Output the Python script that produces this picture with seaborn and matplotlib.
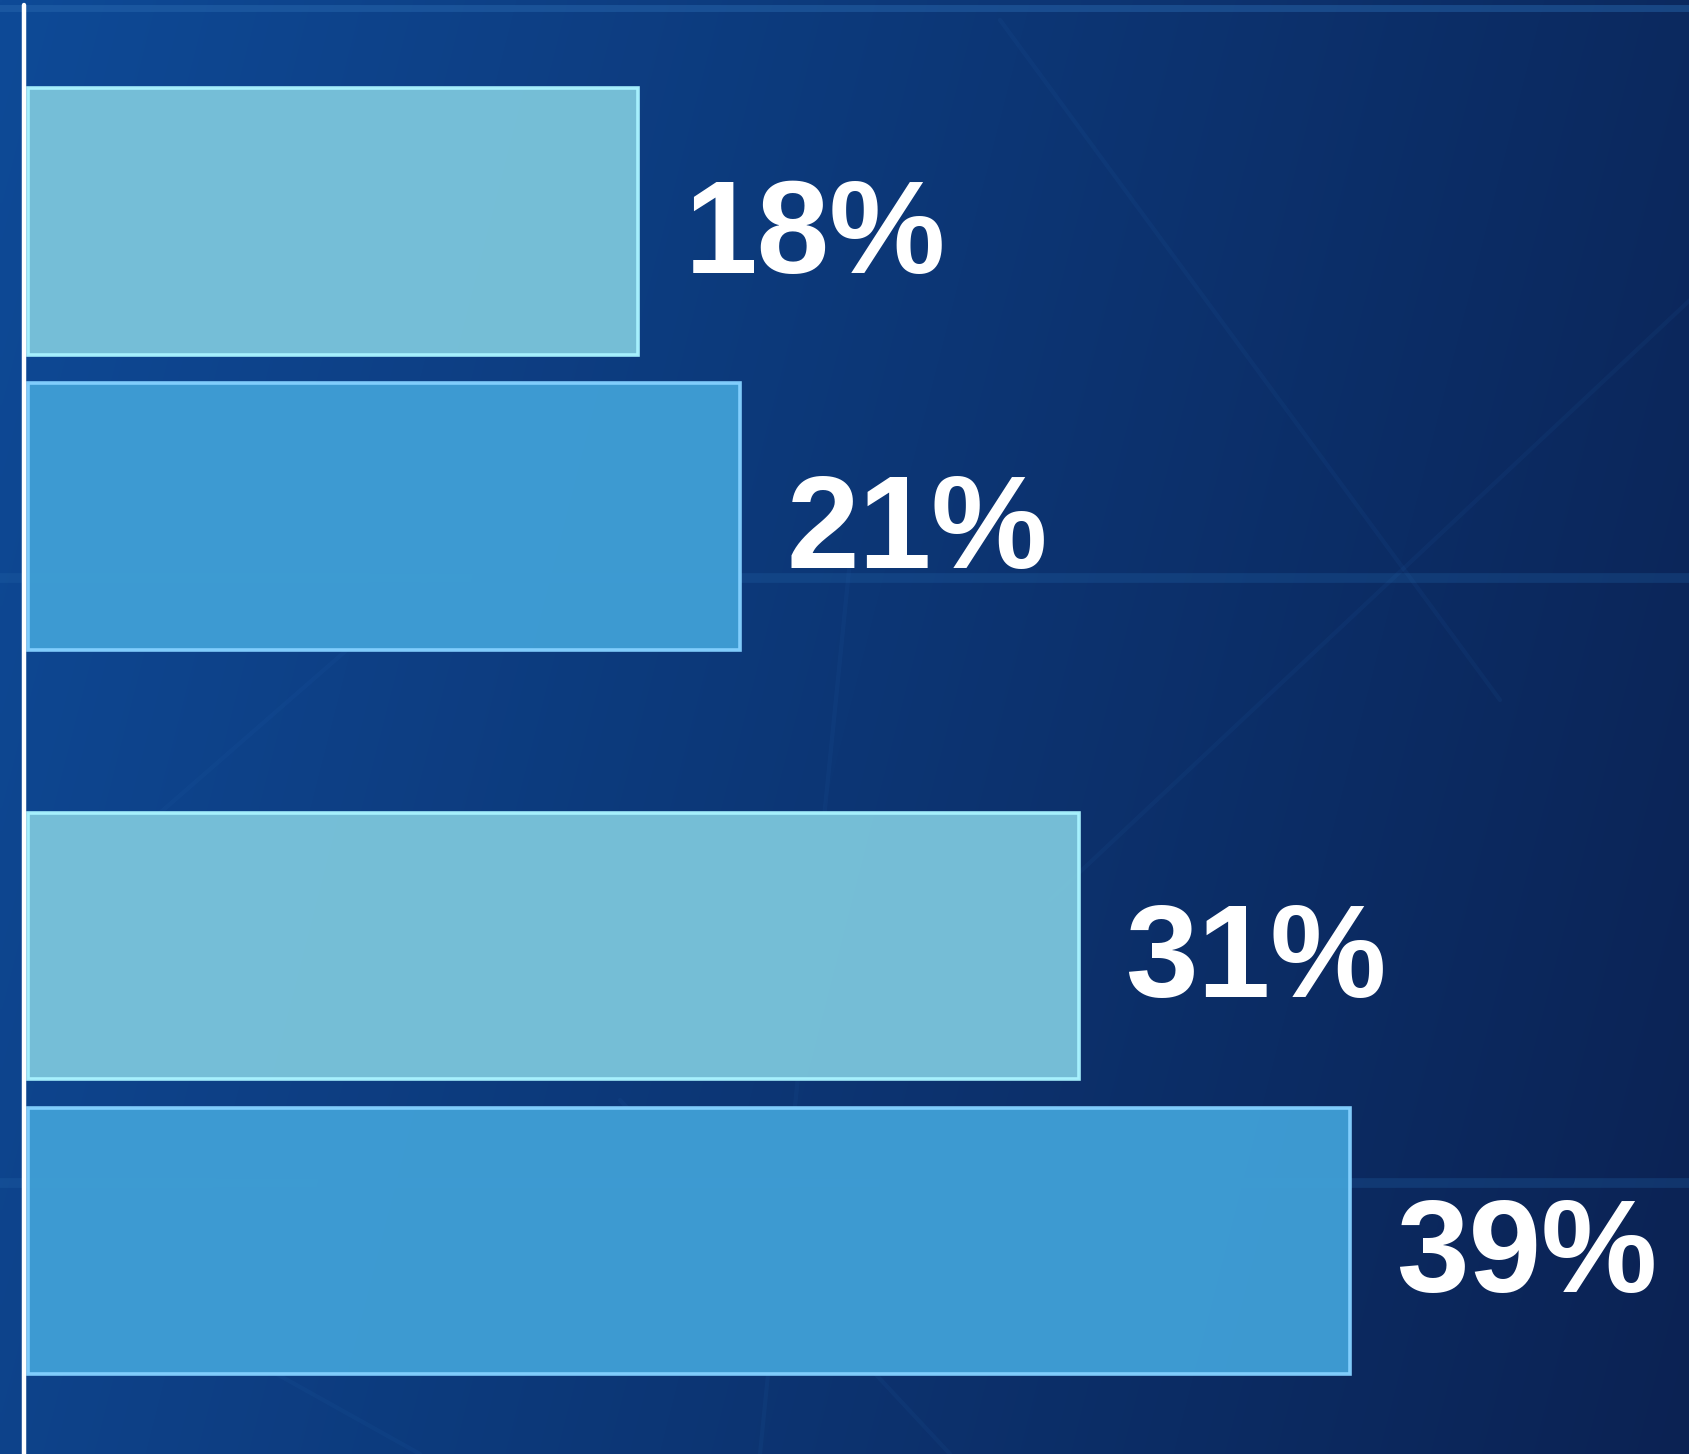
import numpy as np
import pandas as pd
import matplotlib
matplotlib.use("Agg")
import matplotlib.pyplot as plt
import seaborn as sns
from matplotlib.colors import to_rgb

# Chart values
groups = ["First", "First", "Second", "Second"]
series = ["Light", "Dark", "Light", "Dark"]
values = [18, 21, 31, 39]

# Styling
fill_colors = {"Light": "#79C3DA", "Dark": "#3F9ED5"}
edge_colors = {"Light": "#A9F3FF", "Dark": "#84D0FF"}

sns.set_style("white")
plt.rcParams["font.family"] = ["Liberation Sans", "DejaVu Sans"]

df = pd.DataFrame({"group": groups, "series": series, "value": values})

W, H = 1690, 1454
fig = plt.figure(figsize=(W / 100, H / 100), dpi=100)

# Backdrop: diagonal blue gradient
bg = fig.add_axes([0, 0, 1, 1])
bg.set_axis_off()
xx, yy = np.meshgrid(np.linspace(0, 1, 400), np.linspace(0, 1, 350))
t = np.clip(0.82 * xx + 0.18 * yy, 0, 1)
c0 = np.array(to_rgb("#0E4A97"))
c1 = np.array(to_rgb("#0B2253"))
img = c0[None, None, :] * (1 - t[..., None]) + c1[None, None, :] * t[..., None]
bg.imshow(img, extent=[0, W, H, 0], aspect="auto", interpolation="bilinear")
bg.set_xlim(0, W)
bg.set_ylim(H, 0)
# faint light streaks of the backdrop
bg.axhline(8, color="#2A6AB0", alpha=0.45, lw=5)
bg.axhline(578, color="#2466AA", alpha=0.28, lw=7)
bg.axhline(1183, color="#2466AA", alpha=0.28, lw=7)
for (x0, y0, x1, y1) in [(1000, 20, 1500, 700), (1050, 900, 1690, 300),
                         (850, 560, 760, 1454), (60, 900, 450, 560),
                         (180, 1320, 420, 1454), (620, 1100, 950, 1454)]:
    bg.plot([x0, x1], [y0, y1], color="#2C6CB5", alpha=0.09, lw=3)

# Bar chart
ax = fig.add_axes([0, 0, 1, 1])
ax.patch.set_alpha(0)
sns.barplot(data=df, y="group", x="value", hue="series", orient="h",
            hue_order=["Light", "Dark"],
            palette=[fill_colors["Light"], fill_colors["Dark"]],
            saturation=1, width=0.814, gap=0.096, legend=False, alpha=0.97,
            linewidth=2.6, ax=ax)

px_per_unit = 33.9
x_zero_px = 28.3
ax.set_xlim(-x_zero_px / px_per_unit, (W - x_zero_px) / px_per_unit)
ax.set_ylim(1.4976, -0.5096)
ax.axis("off")

for cont, name in zip(ax.containers, ["Light", "Dark"]):
    for bar in cont:
        bar.set_edgecolor(edge_colors[name])
    texts = ax.bar_label(cont, fmt="{:.0f}%", padding=33, color="white",
                         fontsize=94, fontweight="bold")
    for txt in texts:
        txt.xyann = (33, -12)

# White baseline at the left
ax.axvline(-4 / px_per_unit, ymin=0, ymax=(H - 5) / H, color="white", lw=3.2)

fig.savefig("out.png", dpi=100)
